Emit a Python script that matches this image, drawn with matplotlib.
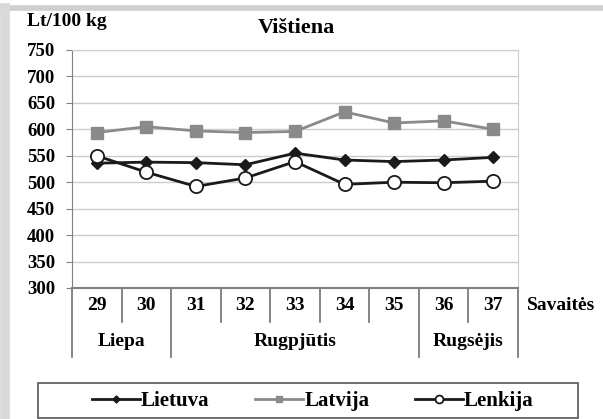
import matplotlib
matplotlib.use("Agg")
import matplotlib.pyplot as plt
from matplotlib.lines import Line2D
from matplotlib.patches import Rectangle
from matplotlib.transforms import blended_transform_factory

weeks = ["29", "30", "31", "32", "33", "34", "35", "36", "37"]
months = ["Liepa", "Rugpjūtis", "Rugsėjis"]
month_spans = [(0, 1), (2, 6), (7, 8)]
lietuva = [536, 538, 537, 533, 555, 542, 539, 542, 547]
latvija = [594, 605, 597, 594, 596, 633, 612, 616, 600]
lenkija = [550, 519, 492, 508, 539, 496, 500, 499, 502]
yticks = [300, 350, 400, 450, 500, 550, 600, 650, 700, 750]

plt.rcParams['font.family'] = ['Liberation Serif', 'DejaVu Serif']
plt.rcParams['font.weight'] = 'bold'

W, H = 603, 419
fig = plt.figure(figsize=(W/100, H/100), dpi=100)
fig.patch.set_facecolor('white')

# outer grey frame pieces
fig.add_artist(Line2D([0, 1], [1 - 8/H, 1 - 8/H], color='#cfcfcf', lw=4, transform=fig.transFigure))
fig.add_artist(Line2D([5/W, 5/W], [0, 1 - 8/H], color='#d9d9d9', lw=7, transform=fig.transFigure))

L, R, T, B = 72, 518, 50, 288
ax = fig.add_axes([L/W, 1 - B/H, (R-L)/W, (B-T)/H])
x = list(range(len(weeks)))

ax.plot(x, latvija, color='#8a8a8a', lw=2, marker='s', ms=8, mfc='#8a8a8a', mec='#8a8a8a', label='Latvija', zorder=3)
ax.plot(x, lietuva, color='#1a1a1a', lw=2, marker='D', ms=6, mfc='#1a1a1a', mec='#1a1a1a', label='Lietuva', zorder=4)
ax.plot(x, lenkija, color='#1a1a1a', lw=2, marker='o', ms=9.5, mfc='white', mec='#1a1a1a', mew=1.3, label='Lenkija', zorder=5)

ax.set_xlim(-0.5, len(weeks) - 0.5)
ax.set_ylim(300, 750)
ax.set_yticks(yticks)
ax.set_yticklabels([str(v) for v in yticks], fontsize=13.5, fontweight='bold')
ax.yaxis.grid(True, color='#cccccc', lw=1)
ax.set_axisbelow(True)
ax.tick_params(axis='y', length=4, color='#808080', pad=8)
ax.set_xticks([])
for s in ['top', 'right']:
    ax.spines[s].set_color('#cccccc')
ax.spines['left'].set_color('#808080')
ax.spines['bottom'].set_color('#808080')
ax.spines['bottom'].set_linewidth(1.5)

tr = blended_transform_factory(ax.transData, ax.transAxes)
h = B - T
row1 = -(322 - B) / h
row2 = -(357 - B) / h
for i, wk in enumerate(weeks):
    ax.text(i, -(306 - B) / h, wk, transform=tr, ha='center', va='center', fontsize=14, fontweight='bold', clip_on=False)
bounds = [m[0] - 0.5 for m in month_spans] + [month_spans[-1][1] + 0.5]
for k in range(len(weeks) + 1):
    xb = k - 0.5
    y2 = row2 if xb in bounds else row1
    ax.add_line(Line2D([xb, xb], [0, y2], color='#707070', lw=1.2, transform=tr, clip_on=False))
for (a, b), m in zip(month_spans, months):
    ax.text((a + b) / 2, -(341 - B) / h, m, transform=tr, ha='center', va='center', fontsize=14, fontweight='bold', clip_on=False)

fig.text(527/W, 1 - 306/H, "Savaitės", ha='left', va='center', fontsize=14, fontweight='bold')
fig.text(27/W, 1 - 21/H, "Lt/100 kg", ha='left', va='center', fontsize=14, fontweight='bold')
fig.text(296/W, 1 - 28/H, "Vištiena", ha='center', va='center', fontsize=16, fontweight='bold')

# legend frame
fig.add_artist(Rectangle((38/W, 1 - 418/H), 540/W, 35/H, transform=fig.transFigure,
                         fill=False, edgecolor='#555555', lw=1.2))
handles, labels = ax.get_legend_handles_labels()
order = [1, 0, 2]
leg = fig.legend([handles[i] for i in order], [labels[i] for i in order],
                 loc='center left', bbox_to_anchor=(92/W, 1 - 401/H),
                 ncol=3, fontsize=15, frameon=False, handlelength=2.3,
                 handletextpad=0.05, borderpad=0, borderaxespad=0, columnspacing=2.2,
                 markerscale=0.6)

fig.savefig("out.png", dpi=100)
